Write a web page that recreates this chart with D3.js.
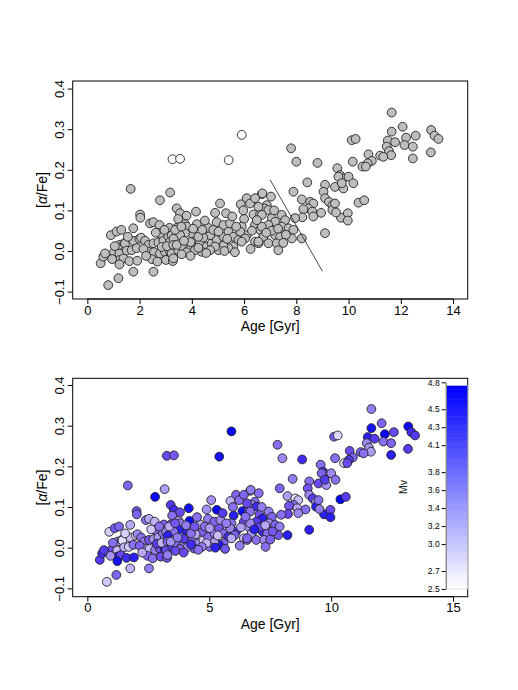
<!DOCTYPE html>
<html>
<head>
<meta charset="utf-8">
<script src="https://cdn.jsdelivr.net/npm/d3@7"></script>
<style>
  body { margin: 0; background: #fff; }
  svg { font-family: "Liberation Sans", Arial, sans-serif; }
  .tick line { stroke: #000; }
  .tick text { fill: #000; }
</style>
</head>
<body>
<div class="chart"></div>
<script>
// star ages [Gyr], [alpha/Fe] and absolute magnitude Mv
var ages = [0.51,0.61,0.68,0.80,0.90,1.02,1.12,1.30,1.23,1.23,1.38,1.23,1.19,1.23,1.41,1.44,1.51,1.61,1.70,1.76,
  1.76,1.66,1.76,1.89,1.91,1.99,2.02,2.03,2.06,2.21,2.34,2.34,2.40,2.53,2.53,2.55,2.53,2.47,2.68,2.72,
  2.76,2.76,2.78,2.78,2.89,2.91,2.97,3.01,3.10,3.14,3.17,3.17,3.17,3.23,3.27,3.26,3.55,1.05,0.95,1.55,
  2.15,2.25,2.62,2.85,2.95,3.05,
  3.42,3.55,3.80,3.48,4.16,4.19,3.74,3.42,3.80,4.00,3.74,3.55,3.36,3.30,3.29,3.23,3.29,3.48,3.68,3.87,
  4.12,4.31,4.57,4.76,4.95,5.21,5.40,5.59,5.78,5.59,5.40,5.21,5.02,4.89,4.70,4.38,4.12,3.80,3.61,3.42,
  4.70,4.44,4.25,5.08,5.31,4.95,5.21,5.46,4.63,4.82,5.02,6.10,5.87,6.23,6.68,6.00,6.36,6.61,5.91,6.42,
  6.10,6.61,5.85,6.04,5.91,6.42,6.55,6.74,5.41,5.91,3.95,4.05,4.50,4.40,4.89,5.55,5.70,5.25,4.55,3.95,
  5.65,6.25,5.97,6.30,3.60,5.35,4.25,3.70,
  7.80,8.00,8.81,9.57,9.67,9.80,8.42,9.10,9.04,9.48,9.80,7.89,6.70,7.03,6.42,9.10,9.25,9.38,9.38,8.21,
  8.53,8.65,8.46,8.27,8.61,8.95,8.65,8.23,7.95,9.10,9.71,6.87,6.78,6.55,6.93,6.68,7.06,7.44,7.57,7.19,
  6.93,6.68,6.49,7.44,7.70,7.89,7.19,7.38,7.83,8.21,6.74,6.55,6.93,7.25,7.31,7.05,7.30,7.60,6.85,7.15,
  7.50,
  11.65,12.07,13.16,13.29,13.44,11.65,12.57,12.20,12.14,12.46,11.50,11.78,11.46,11.55,11.63,12.46,13.15,10.12,10.27,11.21,
  11.33,10.76,10.89,10.73,10.53,10.66,10.16,9.61,10.00,9.74,10.18,10.38,10.60,9.48,9.52,9.97,9.97];
var alphas = [-0.030,-0.014,-0.006,-0.084,0.039,-0.003,0.048,0.052,-0.006,-0.022,-0.018,-0.033,-0.067,0.015,0.019,0.018,0.001,-0.025,0.002,0.025,
  0.056,0.153,-0.051,0.007,-0.024,0.030,0.090,0.082,0.033,0.025,0.015,-0.002,0.068,0.071,0.019,-0.003,-0.051,-0.020,-0.026,0.021,
  0.064,0.044,0.125,-0.006,0.038,0.025,-0.002,-0.022,0.036,0.057,0.144,0.023,-0.003,0.039,-0.025,0.226,0.227,0.012,-0.020,0.035,
  0.005,-0.012,0.045,0.010,0.052,0.012,
  0.105,0.093,0.087,0.079,0.097,0.066,0.066,0.057,0.060,0.044,0.044,0.039,0.052,0.030,0.015,-0.006,-0.018,0.002,0.007,0.002,
  0.023,0.019,0.011,0.019,0.027,0.035,0.048,0.035,0.027,0.011,0.007,0.013,0.002,0.011,0.002,-0.002,0.002,-0.003,-0.008,0.015,
  0.039,0.033,0.035,0.117,0.093,0.071,0.064,0.068,0.057,0.052,0.048,0.130,0.115,0.117,0.140,0.079,0.090,0.090,0.060,0.064,
  0.039,0.052,0.048,0.031,0.023,0.023,0.019,0.035,0.224,0.286,0.022,0.055,0.075,0.052,0.094,0.085,0.060,0.000,-0.005,-0.012,
  -0.003,0.005,0.100,0.050,0.060,0.030,0.008,0.025,
  0.253,0.220,0.217,0.204,0.187,0.179,0.169,0.163,0.146,0.158,0.154,0.146,0.142,0.134,0.130,0.130,0.121,0.113,0.101,0.127,
  0.121,0.117,0.105,0.103,0.097,0.094,0.085,0.083,0.081,0.044,0.082,0.113,0.105,0.109,0.101,0.089,0.081,0.089,0.076,0.072,
  0.064,0.060,0.076,0.060,0.056,0.052,0.039,0.035,0.031,0.031,0.035,0.023,0.019,0.019,0.002,0.050,0.055,0.040,0.045,0.100,
  0.020,
  0.341,0.306,0.298,0.284,0.276,0.294,0.284,0.279,0.261,0.257,0.272,0.268,0.257,0.246,0.236,0.228,0.243,0.273,0.276,0.235,
  0.232,0.238,0.222,0.216,0.208,0.208,0.220,0.183,0.183,0.167,0.167,0.119,0.125,0.117,0.095,0.093,0.075];
var mvs = [4.4,4.5,4.4,3.2,3.1,4.3,4.2,4.1,3.3,4.6,4.3,4.7,4.1,3.6,4.0,2.9,3.4,4.5,3.2,3.3,
  3.5,4.1,3.4,4.0,4.6,2.7,4.2,4.1,3.8,4.0,3.9,3.6,4.0,3.5,4.2,3.3,3.9,4.1,4.0,3.7,
  3.4,4.2,4.75,3.9,4.0,3.6,4.2,4.3,3.9,4.1,3.6,4.0,4.7,3.8,4.2,4.3,4.2,4.0,3.7,3.1,
  4.1,3.5,3.2,4.4,4.0,3.4,
  4.4,4.5,4.3,4.0,4.7,4.75,3.6,4.1,3.9,4.6,4.6,4.0,3.5,4.6,4.1,4.3,3.9,4.4,4.0,3.7,
  3.3,4.1,3.8,3.2,4.0,3.9,4.2,4.0,4.5,4.1,4.65,3.6,4.0,3.4,3.9,4.2,3.8,4.1,4.3,3.7,
  4.1,3.5,4.0,3.7,4.75,3.9,4.1,3.8,3.4,4.0,3.6,4.1,3.4,4.0,3.9,4.6,4.7,4.2,4.0,4.3,
  4.5,3.7,3.8,4.1,3.5,3.3,4.0,4.1,4.7,4.8,4.4,3.9,4.0,4.2,3.7,4.4,3.9,4.6,4.0,4.3,
  4.2,3.9,4.0,3.6,4.2,3.3,4.5,3.9,
  4.0,3.8,4.5,4.0,4.5,4.1,3.9,4.0,4.2,4.3,3.7,4.1,3.9,4.0,4.1,3.8,4.4,3.6,4.6,3.6,
  2.8,3.3,4.0,4.2,3.5,4.0,3.8,4.3,4.0,4.6,4.6,4.0,3.6,4.3,4.5,4.0,4.2,3.9,4.1,4.6,
  4.4,3.8,4.0,3.7,4.1,3.9,4.5,4.0,4.2,4.6,3.6,4.1,4.0,3.8,4.0,4.3,3.5,4.2,4.6,3.9,
  4.1,
  3.9,4.1,4.75,4.5,4.4,4.7,4.3,4.75,4.0,4.1,4.6,4.4,3.8,3.7,3.6,4.6,4.4,4.2,3.0,4.1,
  4.0,4.3,4.1,4.4,2.9,4.3,4.0,4.1,3.8,4.4,4.0,4.8,4.4,4.0,3.9,4.3,4.6];
// stars drawn with open (white) symbols in the upper panel
var openStars = [55, 56, 134, 135];

var topXTicks = [0, 2, 4, 6, 8, 10, 12, 14];
var botXTicks = [0, 5, 10, 15];
var yTicks = [-0.1, 0.0, 0.1, 0.2, 0.3, 0.4];
var mvTicks = [2.5, 2.7, 3.0, 3.2, 3.4, 3.6, 3.8, 4.1, 4.3, 4.5, 4.8];
var cutAges = [7, 9];
var cutAlphas = [0.175, -0.05];

var stars = ages.map(function(a, i) {
  return {age: a, alpha: alphas[i], mv: mvs[i], open: openStars.indexOf(i) >= 0};
});

var svg = d3.select(".chart").append("svg")
  .attr("width", 518).attr("height", 690);

var mvColor = d3.scaleLinear()
  .domain([2.5, 3.2, 3.8, 4.3, 4.8])
  .range(["#ffffff", "#d2c6fa", "#9f88f3", "#6a4af0", "#0000ff"])
  .clamp(true);

function fmt(d) { return d3.format(".1f")(d).replace("-", "\u2212"); }

function panel(box, xDom, yDom, xTicks) {
  var x = d3.scaleLinear().domain(xDom).range([box.left, box.right]);
  var y = d3.scaleLinear().domain(yDom).range([box.bottom, box.top]);
  var g = svg.append("g");

  var xa = g.append("g").attr("transform", "translate(0," + box.bottom + ")")
    .call(d3.axisBottom(x).tickValues(xTicks).tickSize(5).tickSizeOuter(0).tickFormat(d3.format("d")));
  xa.select(".domain").remove();
  xa.append("line").attr("x1", x(xTicks[0])).attr("x2", x(xTicks[xTicks.length - 1])).attr("stroke", "#000");
  xa.selectAll(".tick text").attr("y", 6.5).attr("font-size", 13).attr("font-family", null);

  var ya = g.append("g").attr("transform", "translate(" + box.left + ",0)")
    .call(d3.axisLeft(y).tickValues(yTicks).tickSize(5).tickSizeOuter(0).tickFormat(fmt));
  ya.select(".domain").remove();
  ya.selectAll(".tick text")
    .attr("x", null).attr("dy", null)
    .attr("text-anchor", "middle")
    .attr("font-size", 13).attr("font-family", null)
    .attr("transform", "translate(-13,0) rotate(-90)")
    .attr("dominant-baseline", "central");

  g.append("rect")
    .attr("x", box.left).attr("y", box.top)
    .attr("width", box.right - box.left).attr("height", box.bottom - box.top)
    .attr("fill", "none").attr("stroke", "#000").attr("stroke-width", 1);

  g.append("text")
    .attr("x", (box.left + box.right) / 2).attr("y", box.bottom + 32)
    .attr("text-anchor", "middle").attr("font-size", 14)
    .text("Age [Gyr]");

  var lab = g.append("text")
    .attr("transform", "translate(" + (box.left - 25.5) + "," + ((box.top + box.bottom) / 2) + ") rotate(-90)")
    .attr("text-anchor", "middle").attr("font-size", 14);
  lab.append("tspan").text("[");
  lab.append("tspan").attr("font-style", "italic").text("\u03b1");
  lab.append("tspan").text("/Fe]");

  return {g: g, x: x, y: y};
}

// upper panel: gray symbols
var upper = panel({left: 72.7, right: 467.7, top: 81, bottom: 299}, [-0.56, 14.56], [-0.1182, 0.4187], topXTicks);
upper.g.append("g").selectAll("circle")
  .data(stars).enter().append("circle")
  .attr("cx", function(d) { return upper.x(d.age); })
  .attr("cy", function(d) { return upper.y(d.alpha); })
  .attr("r", 4.4)
  .attr("fill", function(d) { return d.open ? "#ffffff" : "#bebebe"; })
  .attr("stroke", "#222").attr("stroke-width", 0.9);

upper.g.append("line")
  .attr("x1", upper.x(cutAges[0])).attr("y1", upper.y(cutAlphas[0]))
  .attr("x2", upper.x(cutAges[1])).attr("y2", upper.y(cutAlphas[1]))
  .attr("stroke", "#333").attr("stroke-width", 0.9);

// lower panel: coloured by Mv
var lower = panel({left: 72.7, right: 467.7, top: 378.3, bottom: 596.7}, [-0.6, 15.6], [-0.1205, 0.4165], botXTicks);
lower.g.append("g").selectAll("circle")
  .data(stars).enter().append("circle")
  .attr("cx", function(d) { return lower.x(d.age); })
  .attr("cy", function(d) { return lower.y(d.alpha); })
  .attr("r", 4.4)
  .attr("fill", function(d) { return mvColor(d.mv); })
  .attr("stroke", "#222").attr("stroke-width", 0.9);

// colour bar
var mvY = d3.scaleLinear().domain([2.5, 4.8]).range([589, 382.3]);
var barTop = 385.7, barBottom = 589, nSteps = 60;
var steps = d3.range(nSteps);
var barRamp = d3.scaleLinear().domain([0, nSteps - 1]).range(["#ffffff", "#0000ff"]);
lower.g.append("g").selectAll("rect")
  .data(steps).enter().append("rect")
  .attr("x", 446.7).attr("width", 21)
  .attr("y", function(i) { return barBottom - (i + 1) * (barBottom - barTop) / nSteps; })
  .attr("height", (barBottom - barTop) / nSteps + 0.5)
  .attr("fill", function(i) { return barRamp(i); });
lower.g.append("rect")
  .attr("x", 446.7).attr("y", barTop).attr("width", 21).attr("height", barBottom - barTop)
  .attr("fill", "none").attr("stroke", "#bbb").attr("stroke-width", 0.5);

var ca = lower.g.append("g").attr("transform", "translate(445.7,0)")
  .call(d3.axisLeft(mvY).tickValues(mvTicks).tickSize(4).tickSizeOuter(0).tickFormat(d3.format(".1f")));
ca.select(".domain").attr("stroke", "#666");
ca.selectAll(".tick line").attr("stroke", "#666");
ca.selectAll(".tick text").attr("font-size", 8.5).attr("font-family", null).attr("fill", "#333").attr("x", -6);

lower.g.append("text")
  .attr("transform", "translate(407,487) rotate(-90)")
  .attr("text-anchor", "middle").attr("font-size", 10.5).attr("fill", "#222")
  .text("Mv");
</script>
</body>
</html>
